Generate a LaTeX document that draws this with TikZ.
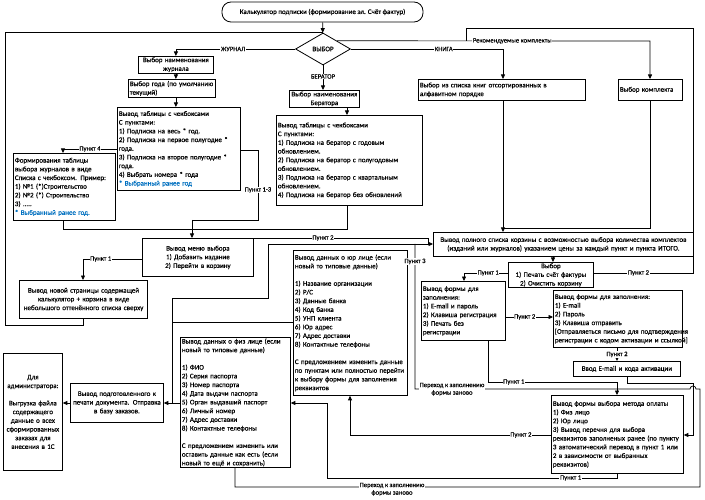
\documentclass[tikz,border=0pt]{standalone}
\usepackage{fontspec}
\setmainfont{Carlito}[FakeBold=0.4]
\usetikzlibrary{shapes.geometric,arrows.meta}
\begin{document}
\begin{tikzpicture}[x=1pt,y=-1pt,
  every node/.style={font=\fontsize{7}{8.7}\selectfont},
  bx/.style={draw,line width=0.8pt,inner xsep=1.5pt,inner ysep=1pt,anchor=north west,align=left},
  bxc/.style={bx,align=center},
  ln/.style={line width=0.7pt},
  arr/.style={ln,-{Triangle[length=4.5pt,width=4pt]}},
  lbl/.style={fill=white,inner sep=0.6pt,font=\fontsize{6.6}{7.6}\selectfont}]
\useasboundingbox[fill=white] (0,0) rectangle (705,500);
% nodes
\node[draw,line width=0.8pt,rounded corners=9pt,minimum width=201pt,minimum height=20pt,inner sep=1pt] (term) at (322.5,12) {Калькулятор подписки (формирование эл. Счёт фактур)};
\node[draw,diamond,aspect=1.7,line width=0.8pt,minimum width=55pt,minimum height=32pt,inner sep=0pt] (dia) at (323,49) {ВЫБОР};
\node[bxc,text width=72pt,minimum height=15pt] (zhname) at (138,56) {\mbox{Выбор наименования}\\журнала};
\node[bx,text width=84pt,minimum height=18pt] (zhyear) at (128,79) {\mbox{Выбор года (по умолчанию}\\текущий)};
\node[bx,text width=120pt,minimum height=83pt] (zhtab) at (117,107) {Вывод таблицы с чекбоксами\\С пунктами:\\1) Подписка на весь * год.\\\mbox{2) Подписка на первое полугодие *}\\года.\\\mbox{3) Подписка на второе полугодие *}\\года.\\4) Выбрать номера * года\\\textcolor[HTML]{0070C0}{* Выбранный ранее год}};
\node[bx,text width=99pt,minimum height=67pt] (zhform) at (13,153) {Формирования таблицы\\выбора журналов в виде\\\mbox{Списка с чекбоксом. Пример:}\\1) №1 (*)Строительство\\2) №2 (*) Строительство\\3) .....\\\textcolor[HTML]{0070C0}{* Выбранный ранее год.}};
\node[bxc,text width=67pt,minimum height=17pt] (bername) at (289,90) {\mbox{Выбор наименования}\\Бератора};
\node[bx,text width=143pt,minimum height=90pt] (bertab) at (276,115) {Вывод таблицы с чекбоксами\\С пунктами:\\1) Подписка на бератор с годовым\\обновлением.\\\mbox{2) Подписка на бератор с полугодовым}\\обновлением.\\\mbox{3) Подписка на бератор с квартальным}\\обновлением.\\\mbox{4) Подписка на бератор без обновлений}};
\node[bx,text width=164pt,minimum height=21pt] (book) at (418,79) {\mbox{Выбор из списка книг отсортированных в}\\алфавитном порядке};
\node[bx,text width=61pt,minimum height=21pt] (kompl) at (618,79) {Выбор комплекта};
\node[bxc,text width=108pt,minimum height=38pt] (menu) at (142,238) {Вывод меню выбора\\1) Добавить издание\\2) Перейти в корзину};
\node[bxc,line width=1.1pt,text width=125pt,minimum height=38pt] (newpage) at (19,280) {Вывод новой страницы содержащей\\калькулятор + корзина в виде\\\mbox{небольшого оттенённого списка сверху}};
\node[bxc,text width=257pt,minimum height=24pt] (korz) at (433,232) {\mbox{Вывод полного списка корзины с возможностью выбора количества комплектов}\\\mbox{(изданий или журналов) указанием цены за каждый пункт и пункта ИТОГО.}};
\node[bxc,text width=82pt,minimum height=25pt] (vybor) at (508,262) {Выбор\\1) Печать счёт фактуры\\2) Очистить корзину};
\node[bx,text width=81pt,minimum height=59pt] (form1) at (421,281) {Вывод формы для\\заполнения:\\1) E-mail и пароль\\\mbox{2) Клавиша регистрация}\\3) Печать без\\регистрации};
\node[bx,text width=126pt,minimum height=57pt] (form2) at (553,290) {Вывод формы для заполнения:\\1) E-mail\\2) Пароль\\3) Клавиша отправить\\\mbox{[Отправляеться письмо для подтверждения}\\\mbox{регистрации с кодом активации и ссылкой]}};
\node[bxc,text width=104pt,minimum height=15pt] (vvod) at (573,361) {Ввод E-mail и кода активации};
\node[bx,text width=129pt,minimum height=78pt] (oplata) at (551,395) {\mbox{Вывод формы выбора метода оплаты}\\1) Физ лицо\\2) Юр лицо\\3) Вывод перечня для выбора\\\mbox{реквизитов заполненых ранее (по пункту}\\\mbox{3 автоматический переход в пункт 1 или}\\2 в зависимости от выбранных\\реквизитов)};
\node[bx,text width=111pt,minimum height=145pt] (jur) at (293,250) {\mbox{Вывод данных о юр лице (если}\\новый то типовые данные)\\[8.7pt]1) Название организации\\2) Р/С\\3) Данные банка\\4) Код банка\\5) УНП клиента\\6) Юр адрес\\7) Адрес доставки\\8) Контактные телефоны\\[8.7pt]\mbox{С предложением изменить данные}\\\mbox{по пунктам или полностью перейти}\\\mbox{к выбору формы для заполнения}\\реквизитов};
\node[bx,text width=107pt,minimum height=130pt] (fiz) at (180,337) {\mbox{Вывод данных о физ лице (если}\\новый то типовые данные)\\[8.7pt]1) ФИО\\2) Серия паспорта\\3) Номер паспорта\\4) Дата выдачи паспорта\\\mbox{5) Орган выдавший паспорт}\\6) Личный номер\\7) Адрес доставки\\8) Контактные телефоны\\[8.7pt]\mbox{С предложением изменить или}\\\mbox{оставить данные как есть (если}\\\mbox{новый то ещё и сохранить)}};
\node[bxc,text width=90pt,minimum height=39pt] (prep) at (70,383) {Вывод подготовленного к\\\mbox{печати документа. Отправка}\\в базу заказов.};
\node[bxc,text width=56pt,minimum height=117pt] (admin) at (3,353) {Для\\\mbox{администратора:}\\[8.7pt]Выгрузка файла\\содержащего\\данные о всех\\\mbox{сформированных}\\заказах для\\внесения в 1С};
% coordinates
\coordinate (L1) at (83,325); \coordinate (L2) at (5,325); \coordinate (L3) at (5,32);
\coordinate (p4) at (63,149);
\coordinate (a1) at (258,150); \coordinate (a2) at (258,220); \coordinate (m1) at (192,220);
\coordinate (f1) at (63,229); \coordinate (b1) at (347,229);
\coordinate (k1) at (503,49); \coordinate (r1) at (650,41); \coordinate (k2) at (503,228);
\coordinate (n1) at (83,259);
\coordinate (q1) at (253,257); \coordinate (q2) at (253,238); \coordinate (q3) at (428,238);
\coordinate (s1) at (172,298); \coordinate (s2) at (268,298); \coordinate (s3) at (268,244);
\coordinate (j1) at (172,322); \coordinate (pp) at (172,403);
\coordinate (v1) at (464,273); \coordinate (v2) at (693,273); \coordinate (v3) at (693,28); \coordinate (v4) at (466,28); \coordinate (v5) at (466,41);
\coordinate (kv) at (553,256);
\coordinate (w1) at (505,317);
\coordinate (x1) at (617,347);
\coordinate (y1) at (627,383); \coordinate (y2) at (693,383); \coordinate (y3) at (693,435);
\coordinate (z1) at (488,382); \coordinate (z2) at (617,382);
\coordinate (o1) at (350,435); \coordinate (o2) at (617,478); \coordinate (o3) at (327,478); \coordinate (o4) at (327,403);
\coordinate (g1) at (235,487); \coordinate (g2) at (700,487); \coordinate (g3) at (700,389); \coordinate (h1) at (696,389); \coordinate (g4) at (415,389); \coordinate (g5) at (415,244);
% connectors
\draw[arr] (term) -- (dia);
\draw[ln] (newpage.south -| L1) -- (L1) -- (L2) -- (L3) -- (L3 -| dia.north);
\draw[arr] (dia.west) -| node[lbl,pos=0.26]{ЖУРНАЛ} (zhname.north);
\draw[arr] (zhname.south) -- (zhname.south |- zhyear.north);
\draw[arr] (zhname.south |- zhyear.south) -- (zhname.south |- zhtab.north);
\draw[arr] (zhtab.west |- p4) -- node[lbl]{Пункт 4} (p4) -- (p4 |- zhform.north);
\draw[ln] (zhtab.east |- a1) -- (a1) -- node[lbl,pos=0.57]{Пункт 1-3} (a2) -- (m1);
\draw[arr] (m1) -- (m1 |- menu.north);
\draw[ln] (zhform.south -| f1) -- (f1) -- (b1) -- (b1 |- bertab.south);
\draw[arr] (dia.south) -- node[lbl,pos=0.45]{БЕРАТОР} (dia.south |- bername.north);
\draw[arr] (bername.south -| b1) -- (b1 |- bertab.north);
\draw[arr] (dia.east) -- node[lbl,pos=0.61]{КНИГА} (k1) -- (k1 |- book.north);
\draw[arr] (dia.north east) -- node[lbl,pos=0.56]{Рекомендуемые комплекты} (r1) -- (r1 |- kompl.north);
\draw[arr] (book.south -| k1) -- (k1 |- korz.north);
\draw[ln] (kompl.south -| r1) -- (r1 |- k2) -- (k2);
\draw[arr] (menu.west |- n1) -- node[lbl,pos=0.7]{Пункт 1} (n1) -- (n1 |- newpage.north);
\draw[ln] (menu.east |- q1) -- (q1) -- (q2) -- node[lbl,pos=0.4]{Пункт 2} (q3) -- (q3 |- s3);
\draw[arr] (s1) -- (s2) -- (s3) -- (s3 -| korz.west);
\draw[ln] (jur.west |- j1) -- (j1);
\draw[ln] (s1) -- (pp);
\draw[arr] (fiz.west |- pp) -- (prep.east |- pp);
\draw[arr] (prep.west |- pp) -- (admin.east |- pp);
\draw[arr] (kv) -- (kv |- vybor.north);
\draw[arr] (vybor.west |- v1) -- node[lbl,pos=0.45]{Пункт 1} (v1) -- (v1 |- form1.north);
\draw[ln] (vybor.east |- v2) -- node[lbl,pos=0.45]{Пункт 2} (v2) -- (v3) -- (v4) -- (v5);
\draw[arr] (form1.east |- w1) -- node[lbl,pos=0.4]{Пункт 2} (form2.west |- w1);
\draw[arr] (form2.south -| x1) -- node[lbl]{Пункт 2} (x1 |- vvod.north);
\draw[arr] (vvod.south -| y1) -- (y1) -- (y2) -- (y3) -- (oplata.east |- y3);
\draw[arr] (form1.south -| z1) -- (z1) -- node[lbl,pos=0.2]{Пункт 1} (z2) -- (z2 |- oplata.north);
\draw[arr] (oplata.west |- o1) -- node[lbl,pos=0.15]{Пункт 2} (o1) -- (o1 |- jur.south);
\draw[arr] (oplata.south -| o2) -- (o2) -- node[lbl,pos=0.16]{Пункт 1} (o3) -- (o4) -- (fiz.east |- o4);
\draw[ln] (fiz.south -| g1) -- (g1) -- (g2) -- (g3) -- (h1) arc[start angle=0,end angle=-180,radius=3] -- (g4) -- node[lbl,pos=0.88]{Пункт 3} (g5);
\node[lbl,align=center,anchor=north] (t1) at (392,482) {Переход к заполнению\\формы заново};
\node[lbl,align=center,anchor=north] (t2) at (452,382) {Переход к заполнению\\формы заново};
\end{tikzpicture}
\end{document}
